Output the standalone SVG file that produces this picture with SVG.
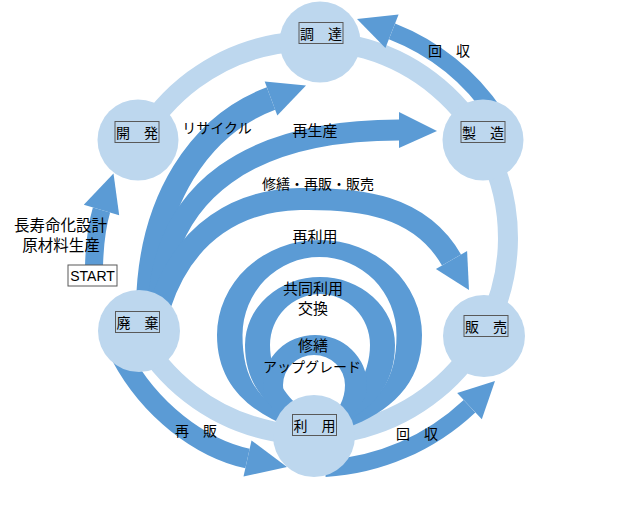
<svg xmlns="http://www.w3.org/2000/svg" width="642" height="506" viewBox="0 0 642 506">
<style>
.lt{fill:none;stroke:#BDD7EE;stroke-width:20}
.dk{fill:none;stroke:#5B9BD5}
.hd{fill:#5B9BD5}
.nd{fill:#BDD7EE}
.bx{fill:none;stroke:#595959;stroke-width:1}
.t{font-family:"Noto Sans CJK JP","Noto Sans",sans-serif;font-size:14px;fill:#000;text-anchor:middle}
.t15{font-size:15px}
.en{font-family:"Liberation Sans",Arial,sans-serif;font-size:14px;fill:#000;text-anchor:middle}
</style>
<rect width="642" height="506" fill="#fff"/>
<g id="connectors">
  <!-- light outer cycle -->
  <path class="lt" d="M139.5 141 A197 197 0 1 1 137.7 331.7"/>
  <!-- top 回収: 製造 -> 調達 -->
  <path class="dk" stroke-width="17" d="M495.7 114.8 A222 222 0 0 0 392 31.3"/>
  <polygon class="hd" points="398.6,14.5 385.4,48.1 357,19"/>
  <!-- bottom 回収: 利用 -> 販売 -->
  <path class="dk" stroke-width="17" d="M325.1 468.6 A231 231 0 0 0 469.5 406.2"/>
  <polygon class="hd" points="457.2,393.1 481.8,419.3 495,381"/>
  <!-- 再販: 廃棄 -> 利用 -->
  <path class="dk" stroke-width="20" d="M121 356 C150 410 200 448 247.5 458.5"/>
  <polygon class="hd" points="251.5,440.4 243.5,476.6 287,467"/>
  <!-- START -> 開発 -->
  <path class="dk" stroke-width="18" d="M94 266 Q95 232 101.5 210"/>
  <polygon class="hd" points="83.8,204.8 119.2,215.2 113.5,173.5"/>
  <!-- リサイクル: 廃棄 -> 調達 -->
  <path class="dk" stroke-width="24" d="M148 305 C150 200 200 125 271 98.5"/>
  <polygon class="hd" points="264.7,81.6 277.3,115.4 306,85.5"/>
  <!-- 再生産: 廃棄 -> 製造 -->
  <path class="dk" stroke-width="21" d="M158 305 C165 190 250 130 399 130"/>
  <polygon class="hd" points="399,112 399,148 437,131"/>
  <!-- 修繕・再販・販売: 廃棄 -> 販売 -->
  <path class="dk" stroke-width="22" d="M160 305 C185 230 240 200 300 199 C360 198 420 205 451.5 260"/>
  <polygon class="hd" points="435.9,268.9 467.1,251.1 469,290"/>
  <!-- loops at 利用 -->
  <path class="hd" d="M292 428 C250 412 217 385 217 335 A102.5 95 0 0 1 422 335 C422 385 389 412 347 428 L339 418 C379 405 396.5 380 396.5 335 A77 78 0 0 0 242.5 335 C242.5 380 260 405 300 418 Z"/>
  <path class="hd" d="M300 424 C268 410 245 385 245 345 A75 68 0 0 1 395 345 C395 385 372 410 340 424 L333 413 C352 400 370 375 370 345 A50 51 0 0 0 270 345 C270 375 288 400 307 413 Z"/>
  <path class="hd" d="M300 428 C280 418 263 405 263 385 A52 50 0 0 1 367 385 C367 405 350 418 330 428 L330 418 C338 410 345 400 345 385 A31 30 0 0 0 283 385 C283 400 290 410 298 418 Z"/>
</g>
<g id="node-chotatsu">
  <circle class="nd" cx="320" cy="42" r="40.5"/>
  <rect class="bx" x="299" y="22.5" width="44" height="21"/>
  <text class="t" x="321" y="38.5">調　達</text>
</g>
<g id="node-seizo">
  <circle class="nd" cx="483" cy="140" r="40.5"/>
  <rect class="bx" x="461" y="121.5" width="44" height="21"/>
  <text class="t" x="483" y="137.5">製　造</text>
</g>
<g id="node-hanbai">
  <circle class="nd" cx="484" cy="336" r="41"/>
  <rect class="bx" x="464" y="315.5" width="44" height="21"/>
  <text class="t" x="486" y="331.5">販　売</text>
</g>
<g id="node-riyo">
  <circle class="nd" cx="314" cy="436" r="41"/>
  <rect class="bx" x="292.5" y="414.5" width="44" height="21"/>
  <text class="t" x="314.5" y="430.5">利　用</text>
</g>
<g id="node-haiki">
  <circle class="nd" cx="139" cy="331" r="41"/>
  <rect class="bx" x="115.5" y="311.5" width="44" height="21"/>
  <text class="t" x="137.5" y="327.5">廃　棄</text>
</g>
<g id="node-kaihatsu">
  <circle class="nd" cx="138" cy="140" r="40.5"/>
  <rect class="bx" x="115" y="121.5" width="44" height="21"/>
  <text class="t" x="137" y="137.5">開　発</text>
</g>
<g id="node-start">
  <rect x="68" y="265" width="49" height="21" fill="#fff" stroke="#595959" stroke-width="1"/>
  <text class="en" x="92.5" y="281">START</text>
</g>
<g id="labels">
  <text class="t" x="449" y="55.5">回　収</text>
  <text class="t" x="217" y="132.5">リサイクル</text>
  <text class="t t15" x="315" y="135.5">再生産</text>
  <text class="t" x="318" y="188.5">修繕・再販・販売</text>
  <text class="t t15" x="315" y="241.5">再利用</text>
  <text class="t t15" x="313" y="293.5">共同利用</text>
  <text class="t t15" x="313" y="313.5">交換</text>
  <text class="t t15" x="313" y="350.5">修繕</text>
  <text class="t" x="312" y="371.5">アップグレード</text>
  <text class="t" x="60.5" y="230.5" style="font-size:15.5px">長寿命化設計</text>
  <text class="t" x="61" y="250.5" style="font-size:15.5px">原材料生産</text>
  <text class="t" x="417" y="438.5">回　収</text>
  <text class="t" x="196" y="435.5">再　販</text>
</g>
</svg>
